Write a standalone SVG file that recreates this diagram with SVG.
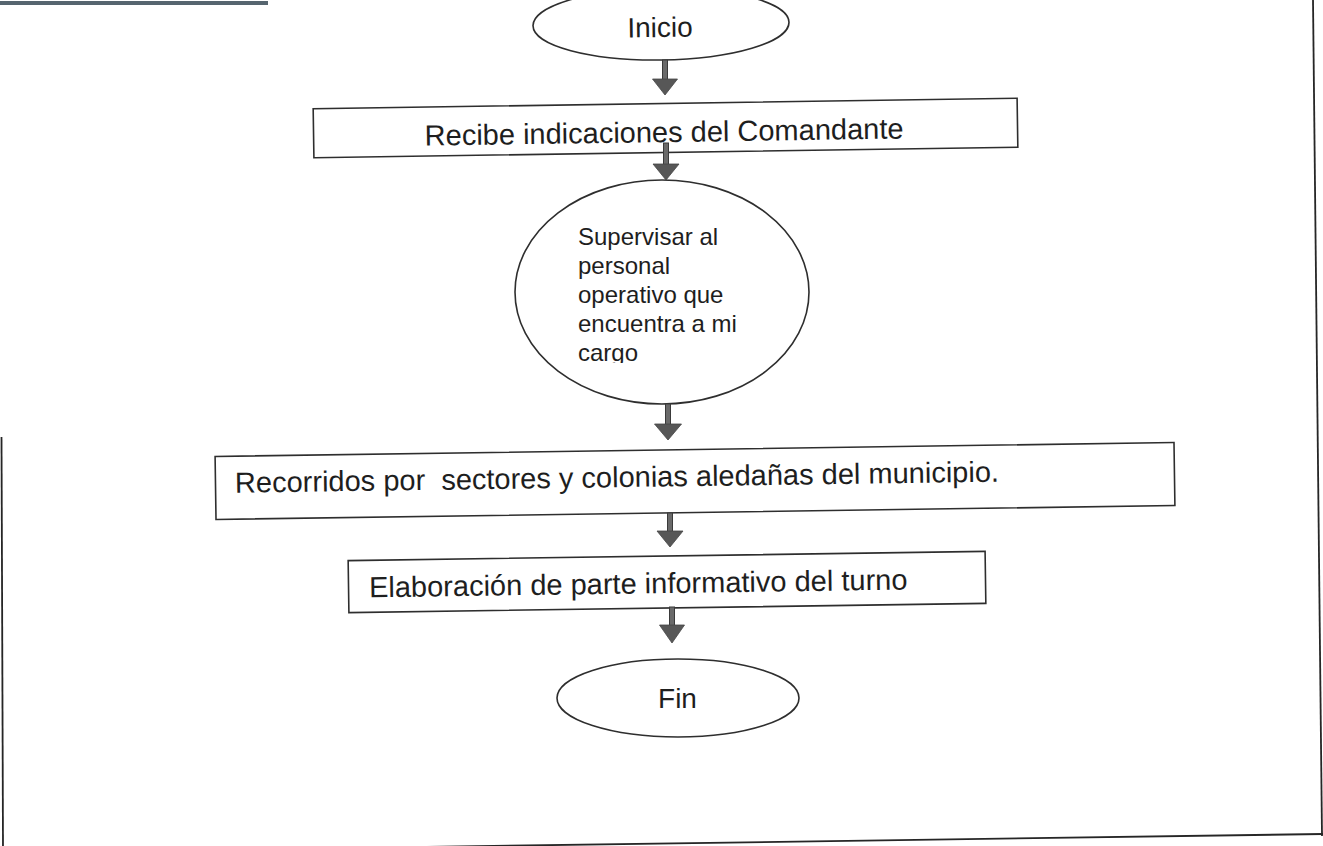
<svg xmlns="http://www.w3.org/2000/svg" width="1323" height="846" viewBox="0 0 1323 846">
  <style>
    .shape { fill: #ffffff; stroke: #2e2e2e; stroke-width: 1.6; }
    .lbl { font-family: "Liberation Sans", Arial, sans-serif; fill: #1e1e1e; }
    .big { font-size: 29px; }
    .mid { font-size: 28px; }
    .small { font-size: 24px; }
    .shaft { fill: #6a6a6a; stroke: #3a3a3a; stroke-width: 1; }
    .head { fill: #575757; stroke: #454545; stroke-width: 0.8; }
    .frame { stroke: #262626; stroke-width: 1.8; fill: none; }
  </style>
  <defs>
    <clipPath id="clipSup">
      <rect x="500" y="180" width="320" height="183"/>
    </clipPath>
  </defs>
  <rect width="1323" height="846" fill="#ffffff"/>

  <g id="frame">
    <line x1="0" y1="3" x2="268" y2="3" stroke="#56656f" stroke-width="4"/>
    <line class="frame" x1="1313" y1="0" x2="1322" y2="836"/>
    <line class="frame" x1="420" y1="847" x2="1323" y2="834"/>
    <line class="frame" x1="1.5" y1="437" x2="3" y2="846"/>
  </g>

  <g id="node-inicio" transform="rotate(-0.8 661 24)">
    <ellipse class="shape" cx="661" cy="24" rx="128" ry="36"/>
    <text class="lbl mid" x="660" y="37" text-anchor="middle">Inicio</text>
  </g>

  <g id="node-recibe" transform="rotate(-0.85 665.5 128)">
    <rect class="shape" x="313.5" y="103.5" width="704" height="49"/>
    <text class="lbl big" x="664" y="142" text-anchor="middle">Recibe indicaciones del Comandante</text>
  </g>

  <g id="node-supervisar">
    <ellipse class="shape" cx="662" cy="292" rx="147" ry="112"/>
    <g clip-path="url(#clipSup)">
      <text class="lbl small" x="578" y="245">Supervisar al</text>
      <text class="lbl small" x="578" y="274">personal</text>
      <text class="lbl small" x="578" y="303">operativo que</text>
      <text class="lbl small" x="578" y="332">encuentra a mi</text>
      <text class="lbl small" x="578" y="361">cargo</text>
    </g>
  </g>

  <g id="node-recorridos" transform="rotate(-0.83 695 481)">
    <rect class="shape" x="215.5" y="449.5" width="959" height="63"/>
    <text class="lbl big" x="235" y="486" xml:space="preserve">Recorridos por  sectores y colonias aledañas del municipio.</text>
  </g>

  <g id="node-elaboracion" transform="rotate(-0.83 667 582)">
    <rect class="shape" x="348.5" y="556" width="637" height="52"/>
    <text class="lbl big" x="369" y="593">Elaboración de parte informativo del turno</text>
  </g>

  <g id="node-fin">
    <ellipse class="shape" cx="678" cy="698" rx="121" ry="39"/>
    <text class="lbl mid" x="677.5" y="708" text-anchor="middle">Fin</text>
  </g>

  <g id="connectors">
    <rect class="shaft" x="662.5" y="60" width="5" height="20"/>
    <polygon class="head" points="652.5,79 677.5,79 665,95"/>

    <rect class="shaft" x="663.5" y="143" width="5" height="22"/>
    <polygon class="head" points="653,164 679,164 666,180"/>

    <rect class="shaft" x="665.5" y="404" width="5" height="21"/>
    <polygon class="head" points="654.5,424 681.5,424 668,440"/>

    <rect class="shaft" x="667.5" y="513" width="5" height="19"/>
    <polygon class="head" points="657,531 683,531 670,547"/>

    <rect class="shaft" x="669.5" y="607" width="5" height="19"/>
    <polygon class="head" points="659.5,625 684.5,625 672,643"/>
  </g>
</svg>
